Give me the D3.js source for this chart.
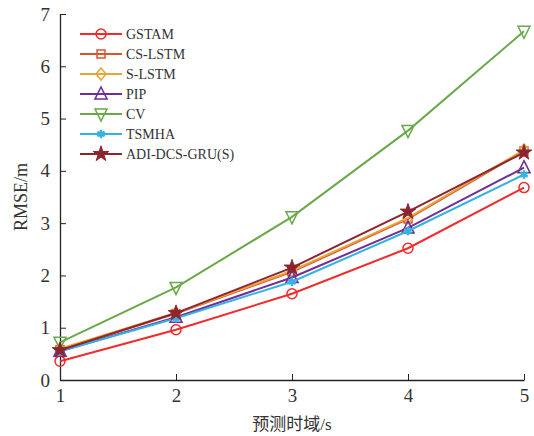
<!DOCTYPE html>
<html lang="zh">
<head>
<meta charset="utf-8">
<script src="https://cdn.jsdelivr.net/npm/d3@7"></script>
<style>
  body { margin: 0; background: #fff; }
  text { font-family: "Liberation Serif", "Noto Sans CJK SC", serif; fill: #333; }
</style>
</head>
<body>
<svg id="chart" width="534" height="436"></svg>
<script>
"use strict";

// horizons (s)
const horizons = [1, 2, 3, 4, 5];
const yTicks = [0, 1, 2, 3, 4, 5, 6, 7];

// RMSE values
const gstam  = [0.36, 0.96, 1.65, 2.52, 3.68];
const csLstm = [0.58, 1.27, 2.07, 3.08, 4.38];
const sLstm  = [0.60, 1.28, 2.09, 3.10, 4.40];
const pip    = [0.55, 1.20, 1.96, 2.91, 4.06];
const cv     = [0.72, 1.77, 3.12, 4.77, 6.67];
const tsmha  = [0.55, 1.18, 1.88, 2.85, 3.93];
const adi    = [0.57, 1.28, 2.15, 3.22, 4.35];

const seriesNames = ["GSTAM", "CS-LSTM", "S-LSTM", "PIP", "CV", "TSMHA", "ADI-DCS-GRU(S)"];
const seriesVals = [gstam, csLstm, sLstm, pip, cv, tsmha, adi];
const colors = ["#f22a2a", "#d9542f", "#e8a33a", "#6f2f98", "#6aa84a", "#35b2e3", "#8d2530"];
const markers = ["circle", "square", "diamond", "up", "down", "asterisk", "star"];

const svg = d3.select("#chart");
const x = d3.scaleLinear().domain([1, 5]).range([60, 524]);
const y = d3.scaleLinear().domain([0, 7]).range([380, 14]);

// axes (ticks point inward)
const xAxis = svg.append("g").attr("transform", "translate(0,380)")
  .call(d3.axisBottom(x).tickValues(horizons).tickFormat(d3.format("d")).tickSizeInner(-6).tickSizeOuter(0).tickPadding(9));
const yAxis = svg.append("g").attr("transform", "translate(60,0)")
  .call(d3.axisLeft(y).tickValues(yTicks).tickFormat(d3.format("d")).tickSizeInner(-6).tickSizeOuter(0).tickPadding(10));
[xAxis, yAxis].forEach(g => {
  g.select(".domain").attr("stroke", "#222").attr("stroke-width", 1.3);
  g.selectAll(".tick line").attr("stroke", "#222");
  g.selectAll(".tick text").attr("font-size", 19).attr("fill", "#333")
    .attr("font-family", "Liberation Serif");
});

svg.append("text").attr("x", 292).attr("y", 430).attr("text-anchor", "middle")
  .attr("font-size", 17).text("预测时域/s");
svg.append("text").attr("transform", "translate(27,197) rotate(-90)")
  .attr("text-anchor", "middle").attr("font-size", 18).text("RMSE/m");

function drawMarker(g, type, cx, cy, color) {
  const s = 5;
  if (type === "circle") {
    g.append("circle").attr("cx", cx).attr("cy", cy).attr("r", s)
      .attr("fill", "none").attr("stroke", color).attr("stroke-width", 1.5);
  } else if (type === "square") {
    g.append("rect").attr("x", cx - 4).attr("y", cy - 4).attr("width", 8).attr("height", 8)
      .attr("fill", "none").attr("stroke", color).attr("stroke-width", 1.5);
  } else if (type === "diamond") {
    g.append("path").attr("d", `M${cx},${cy - 6}L${cx + 5},${cy}L${cx},${cy + 6}L${cx - 5},${cy}Z`)
      .attr("fill", "none").attr("stroke", color).attr("stroke-width", 1.5);
  } else if (type === "up") {
    g.append("path").attr("d", `M${cx},${cy - 7}L${cx + 6},${cy + 5}L${cx - 6},${cy + 5}Z`)
      .attr("fill", "none").attr("stroke", color).attr("stroke-width", 1.6);
  } else if (type === "down") {
    g.append("path").attr("d", `M${cx - 6},${cy - 5}L${cx + 6},${cy - 5}L${cx},${cy + 7}Z`)
      .attr("fill", "none").attr("stroke", color).attr("stroke-width", 1.5);
  } else if (type === "asterisk") {
    g.append("path").attr("d", d3.symbol(d3.symbolAsterisk, 50)())
      .attr("transform", `translate(${cx},${cy})`)
      .attr("fill", "none").attr("stroke", color).attr("stroke-width", 2.5);
  } else if (type === "star") {
    g.append("path").attr("d", d3.symbol(d3.symbolStar, 75)())
      .attr("transform", `translate(${cx},${cy})`)
      .attr("fill", color).attr("stroke", color).attr("stroke-width", 1);
  }
}

const line = d3.line().x((d, i) => x(horizons[i])).y(d => y(d));

seriesVals.forEach((vals, k) => {
  const g = svg.append("g");
  g.append("path").datum(vals).attr("d", line)
    .attr("fill", "none").attr("stroke", colors[k]).attr("stroke-width", 2);
  vals.forEach((v, i) => drawMarker(g, markers[k], x(horizons[i]), y(v), colors[k]));
});

// legend
const legend = svg.append("g");
seriesNames.forEach((name, k) => {
  const ly = 34 + k * 20;
  legend.append("line").attr("x1", 80).attr("x2", 122).attr("y1", ly).attr("y2", ly)
    .attr("stroke", colors[k]).attr("stroke-width", 2);
  drawMarker(legend, markers[k], 101, ly, colors[k]);
  legend.append("text").attr("x", 126).attr("y", ly).attr("dy", "0.35em")
    .attr("font-size", 14).text(name);
});
</script>
</body>
</html>
